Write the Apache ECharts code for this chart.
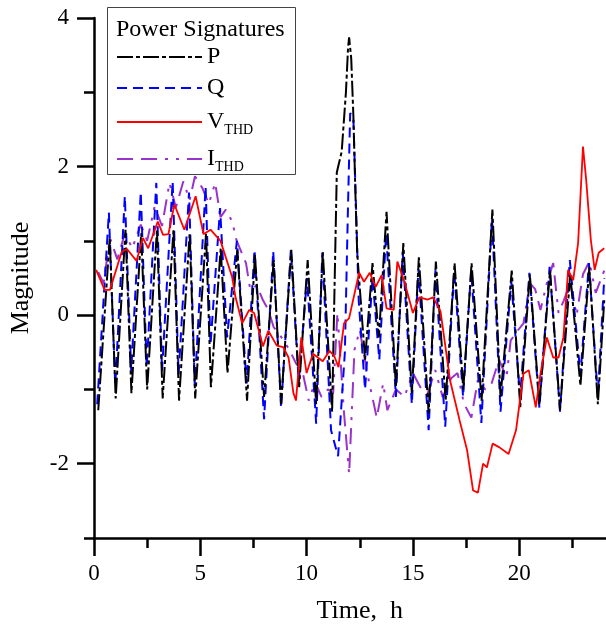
<!DOCTYPE html>
<html><head><meta charset="utf-8">
<script src="https://cdn.jsdelivr.net/npm/echarts@6/dist/echarts.min.js"></script>
<style>html,body{margin:0;padding:0;overflow:hidden;background:#fff}#c{width:640px;height:629px}</style>
</head><body><div id="c"></div><script>
// ---- data (time in hours, magnitude) ----
const pTime=[0.2,0.74,1.02,1.48,1.76,2.22,2.5,2.96,3.23,3.74,4.0,4.5,4.76,5.27,5.5,5.96,6.28,6.74,7.2,7.57,8.0,8.45,8.8,9.28,9.65,10.05,10.45,10.76,11.2,11.42,11.65,11.85,11.95,12.0,12.1,12.2,12.3,12.38,12.75,13.1,13.4,13.76,14.2,14.55,14.95,15.28,15.74,16.08,16.54,16.96,17.37,17.76,18.23,18.74,19.12,19.65,20.05,20.5,20.95,21.45,21.92,22.4,22.88,23.3,23.7,24.0];
const pVal=[-1.28,1.04,-1.12,1.15,-1.05,1.1,-1.0,1.15,-1.12,1.15,-1.15,1.1,-1.12,1.1,-0.97,0.9,-0.78,0.88,-1.15,0.81,-1.1,0.74,-1.2,0.88,-0.97,0.74,-1.2,0.85,-1.3,1.92,2.2,3.0,3.6,3.74,3.45,2.68,1.6,0.84,-0.6,0.7,-0.3,1.39,-0.97,0.97,-1.05,0.78,-1.32,0.72,-1.15,0.7,-1.0,0.7,-1.15,1.42,-1.1,0.6,-1.24,0.55,-1.2,0.6,-1.28,0.55,-0.95,0.65,-1.2,0.2];
const qTime=[0.15,0.7,1.0,1.45,1.75,2.2,2.48,2.93,3.2,3.7,3.98,4.47,4.74,5.25,5.48,5.93,6.26,6.72,7.18,7.55,8.0,8.43,8.8,9.26,9.63,10.02,10.45,10.74,11.15,11.48,11.8,11.95,12.05,12.2,12.32,12.45,12.75,13.1,13.42,13.74,14.2,14.52,14.95,15.26,15.74,16.06,16.52,16.94,17.36,17.74,18.22,18.72,19.12,19.63,20.04,20.48,20.95,21.43,21.92,22.38,22.88,23.28,23.7,24.0];
const qVal=[-1.2,1.38,-0.95,1.6,-0.75,1.66,-0.7,1.78,-0.75,1.8,-0.8,1.65,-0.95,1.73,-0.4,1.44,-0.3,1.0,-0.92,0.88,-1.4,0.86,-1.25,0.88,-0.9,0.5,-1.46,0.84,-1.55,-1.9,-0.5,1.5,2.72,2.65,1.5,0.2,-1.0,0.5,-0.6,1.1,-1.1,0.85,-1.2,0.62,-1.55,0.6,-1.5,0.6,-1.1,0.6,-1.45,1.3,-1.3,0.45,-1.1,0.57,-1.25,0.65,-1.3,0.74,-0.8,0.7,-1.1,0.5];
const vTime=[0.1,0.5,0.75,1.3,1.55,2.0,2.3,2.55,3.0,3.25,3.5,3.78,4.25,4.78,5.15,5.48,5.95,6.5,6.65,6.97,7.3,7.53,7.95,8.2,8.6,8.9,9.15,9.38,9.5,9.75,10.0,10.3,10.76,11.08,11.3,11.5,11.76,12.0,12.47,12.7,12.97,13.25,13.53,13.76,14.1,14.27,14.6,15.0,15.3,15.7,15.95,16.3,16.75,17.2,17.55,17.83,18.06,18.3,18.48,18.75,19.07,19.5,19.85,20.2,20.45,20.78,21.0,21.3,21.6,21.85,22.08,22.3,22.54,22.77,23.0,23.15,23.37,23.55,23.74,24.0];
const vVal=[0.61,0.34,0.34,0.85,0.89,0.73,1.04,0.9,1.26,1.08,1.09,1.49,1.15,1.6,1.09,1.15,1.0,0.51,0.25,-0.11,0.07,0.03,-0.42,-0.21,-0.41,-0.43,-0.57,-1.05,-1.15,-0.3,-0.78,-0.52,-0.62,-0.48,-0.55,-0.7,-0.11,-0.04,0.57,0.45,0.57,0.38,0.54,0.09,0.07,0.72,0.45,0.03,0.24,0.21,0.24,0.05,-0.88,-1.42,-1.82,-2.36,-2.39,-2.0,-2.05,-1.73,-1.78,-1.87,-1.55,-0.79,-0.74,-1.24,-0.79,-0.3,-0.57,-0.57,-0.3,0.61,0.47,0.97,2.27,1.82,1.01,0.61,0.84,0.9];
const iTime=[0.2,0.45,0.75,1.1,1.45,1.8,2.2,2.5,2.85,3.2,3.55,3.85,4.2,4.5,4.75,5.1,5.4,5.7,5.95,6.2,6.5,6.7,7.15,7.35,7.65,7.95,8.2,8.45,8.75,9.2,9.5,9.8,10.1,10.4,10.7,11.0,11.25,11.45,11.75,12.0,12.25,12.5,12.85,13.3,13.6,13.8,14.2,14.6,15.0,15.35,15.7,16.05,16.4,16.8,17.1,17.4,17.75,18.05,18.4,18.7,19.05,19.4,19.6,19.95,20.2,20.5,20.75,21.0,21.3,21.6,21.85,22.1,22.4,22.7,23.0,23.3,23.6,24.0];
const iVal=[0.58,0.43,1.04,0.75,1.1,0.9,1.22,1.0,1.46,1.2,1.78,1.45,1.8,1.55,1.87,1.71,1.5,1.78,1.32,1.42,1.26,1.01,0.7,0.34,0.4,0.2,0.07,-0.16,-0.27,-0.47,-0.65,-0.75,-1.15,-0.9,-1.1,-1.0,-1.05,0.03,-1.28,-2.14,-0.47,-0.2,-0.78,-1.38,-0.92,-1.28,-1.0,-1.1,-0.78,-0.97,-1.05,-0.74,-1.1,-0.85,-0.78,-1.19,-1.38,-0.88,-1.0,-0.92,-0.6,-0.84,-0.34,-0.2,-0.11,0.43,0.35,0.07,0.43,0.7,0.03,0.2,0.43,0.0,0.55,0.72,0.3,0.6];
const xMajor=[0,5,10,15,20,25], xMinor=[2.5,7.5,12.5,17.5,22.5];
const yMajor=[-2,0,2,4], yMinor=[-3,-1,1,3];
const seriesNames=['P','Q','V_THD','I_THD'];

const pairs=(t,v)=>t.map((x,i)=>[x,v[i]]);
const F='Liberation Serif';
const axLine={show:true,onZero:false,lineStyle:{color:'#000',width:2.5}};
const tickStyle={color:'#000',width:2.5};
function xAx(ticks,len,labels){return {type:'value',min:0,max:25,position:'bottom',
  axisLine:Object.assign({},axLine,{show:!!labels}),
  axisTick:{show:true,inside:false,customValues:ticks,length:len,lineStyle:tickStyle},
  axisLabel:labels?{show:true,customValues:labels,margin:24,fontFamily:F,fontSize:23,color:'#000'}:{show:false},
  splitLine:{show:false},
  name:labels?'Time,  h':'',nameLocation:'middle',nameGap:60,nameTextStyle:{fontFamily:F,fontSize:26,color:'#000'}};}
function yAx(ticks,len,labels){return {type:'value',min:-3,max:4,position:'left',
  axisLine:Object.assign({},axLine,{show:!!labels}),
  axisTick:{show:true,inside:false,customValues:ticks,length:len,lineStyle:tickStyle},
  axisLabel:labels?{show:true,customValues:labels,margin:25,fontFamily:F,fontSize:23,color:'#000'}:{show:false},
  splitLine:{show:false},
  name:labels?'Magnitude':'',nameLocation:'middle',nameGap:60,nameRotate:90,nameTextStyle:{fontFamily:F,fontSize:26,color:'#000'}};}

const fmt=n=>{ if(n==='V_THD') return '{n|V}{s|THD}'; if(n==='I_THD') return '{n|I}{s|THD}'; return '{n|'+n+'}'; };
const chart=echarts.init(document.getElementById('c'));
chart.setOption({
  animation:false,
  backgroundColor:'#fff',
  grid:{left:92,right:7,top:18,bottom:91},
  xAxis:[xAx(xMajor,18,xMajor),xAx(xMinor,10,null)],
  yAxis:[yAx(yMajor,17,yMajor),yAx(yMinor,10,null)],
  legend:{data:seriesNames,orient:'vertical',left:116,top:45,padding:0,itemWidth:85,itemHeight:14,itemGap:7,z:20,
    itemStyle:{opacity:0,borderWidth:0},
    formatter:fmt,
    textStyle:{color:'#000',fontFamily:F,fontSize:24,
      rich:{n:{fontFamily:F,fontSize:24,lineHeight:24,color:'#000'},s:{fontFamily:F,fontSize:14,lineHeight:14,padding:[16,0,0,0],color:'#000'}}}},
  graphic:{elements:[
    {type:'rect',left:107,top:7,z:10,shape:{width:188,height:167},style:{fill:'#fff',stroke:'#444',lineWidth:1}},
    {type:'text',left:116,top:18,z:21,style:{text:'Power Signatures',font:'24px "Liberation Serif"',fill:'#000'}}
  ]},
  series:[
    {name:'P',type:'line',data:pairs(pTime,pVal),symbol:'none',z:3,lineStyle:{color:'#000',width:2,type:[16,3,4,3]},itemStyle:{color:'#000'}},
    {name:'Q',type:'line',data:pairs(qTime,qVal),symbol:'none',z:2,lineStyle:{color:'#0000ff',width:2,type:[10,6]},itemStyle:{color:'#0000ff'}},
    {name:'V_THD',type:'line',data:pairs(vTime,vVal),symbol:'none',z:4,lineStyle:{color:'#ff0000',width:1.8,type:'solid'},itemStyle:{color:'#ff0000'}},
    {name:'I_THD',type:'line',data:pairs(iTime,iVal),symbol:'none',z:1,lineStyle:{color:'#9933cc',width:2,type:[16,8,16,8,3,8,3,8]},itemStyle:{color:'#9933cc'}}
  ]
});
</script></body></html>
